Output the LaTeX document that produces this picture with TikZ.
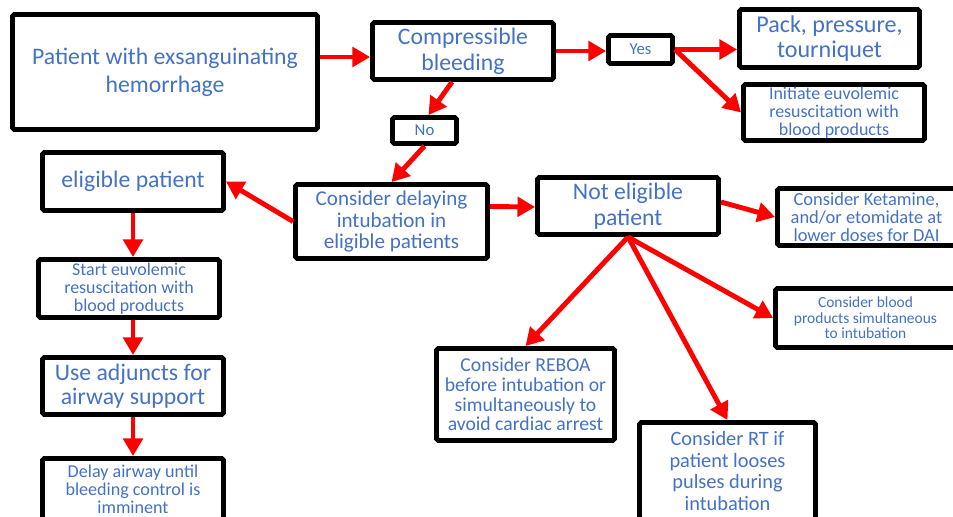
\documentclass[tikz,border=0pt]{standalone}
\usepackage{fontspec}
\setmainfont{Carlito}
\usepackage{tikz}
\usetikzlibrary{arrows.meta,calc}
\usepackage{xcolor}
\definecolor{txtblue}{HTML}{4472C4}

\begin{document}
\begin{tikzpicture}[x=0.02cm,y=-0.02cm,
  box/.style={draw=black,line width=2.8pt,rounded corners=1pt,fill=white,text=txtblue,align=center,inner sep=1pt},
  arr/.style={-{Triangle[length=10pt,width=11pt]},draw=red,line width=2.8pt}]
\useasboundingbox (0,0) rectangle (953,517);
% top row
\node[box,minimum width=6.1cm,minimum height=2.3cm,font=\fontsize{13.5}{16}\selectfont] (patient) at (165,72) {Patient with exsanguinating\\hemorrhage};
\node[box,minimum width=3.62cm,minimum height=1.14cm,font=\fontsize{13.5}{15}\selectfont] (cb) at (463,51) {Compressible\\bleeding};
\node[box,minimum width=1.28cm,minimum height=0.56cm,font=\fontsize{9.5}{11}\selectfont] (yes) at (640.5,49.5) {Yes};
\node[box,minimum width=3.6cm,minimum height=1.16cm,font=\fontsize{13.7}{14}\selectfont] (pack) at (829.5,38.5) {Pack, pressure,\\tourniquet};
\node[box,minimum width=3.62cm,minimum height=1.12cm,font=\fontsize{10.2}{10.2}\selectfont] (init) at (834,112.5) {Initiate euvolemic\\resuscitation with\\blood products};
\node[box,minimum width=1.28cm,minimum height=0.52cm,font=\fontsize{9.5}{11}\selectfont] (no) at (424.5,130.5) {No};
% middle row
\node[box,minimum width=3.62cm,minimum height=1.16cm,font=\fontsize{13.5}{15}\selectfont] (elig) at (133,181.5) {eligible patient};
\node[box,minimum width=3.84cm,minimum height=1.48cm,font=\fontsize{12}{12.3}\selectfont] (cdi) at (391.5,221.5) {Consider delaying\\intubation in\\eligible patients};
\node[box,minimum width=3.62cm,minimum height=1.14cm,font=\fontsize{13.5}{15}\selectfont] (ne) at (628,206) {Not eligible\\patient};
\node[box,minimum width=3.56cm,minimum height=1.14cm,font=\fontsize{10.5}{10.4}\selectfont] (ket) at (866.5,217) {Consider Ketamine,\\and/or etomidate at\\lower doses for DAI};
% left column
\node[box,minimum width=3.62cm,minimum height=1.16cm,font=\fontsize{10.2}{10.2}\selectfont] (start) at (129,288.5) {Start euvolemic\\resuscitation with\\blood products};
\node[box,minimum width=3.62cm,minimum height=1.14cm,font=\fontsize{13.5}{14}\selectfont] (adj) at (133,386) {Use adjuncts for\\airway support};
\node[box,minimum width=3.62cm,minimum height=1.22cm,font=\fontsize{10.3}{10.3}\selectfont] (dly) at (133,489) {Delay airway until\\bleeding control is\\imminent};
% lower right
\node[box,minimum width=3.6cm,minimum height=1.18cm,font=\fontsize{8.8}{8.8}\selectfont] (bp) at (865.5,318) {Consider blood\\products simultaneous\\to intubation};
\node[box,minimum width=3.56cm,minimum height=1.84cm,font=\fontsize{11.2}{11.2}\selectfont] (reboa) at (525.5,394.5) {Consider REBOA\\before intubation or\\simultaneously to\\avoid cardiac arrest};
\node[box,minimum width=3.52cm,minimum height=1.94cm,font=\fontsize{11.6}{12.5}\selectfont] (rt) at (727.5,471) {Consider RT if\\patient looses\\pulses during\\intubation};
% connectors
\draw[arr] ($(patient.east)+(0,-15)$) -- ($(cb.west)+(0,6)$);
\draw[arr] (cb.east) -- (cb.east -| yes.west);
\draw[arr] (yes.east) -- (yes.east -| pack.west);
\draw[arr] (yes.east) -- (init.west);
\draw[arr] ($(cb.south)+(-11,0)$) -- ($(no.north)+(4,0)$);
\draw[arr] (no.south) -- (cdi.north);
\draw[arr] (cdi.west) -- (elig.east);
\draw[arr] ($(cdi.east)+(0,-15)$) -- ($(ne.west)+(0,1)$);
\draw[arr] ($(ne.east)+(0,-4)$) -- (ket.west);
\draw[arr] (ne.south) -- (reboa.north);
\draw[arr] (ne.south) -- (rt.north);
\draw[arr] (ne.south) -- (bp.west);
\draw[arr] (elig.south) -- (elig.south |- start.north);
\draw[arr] (start.south -| adj.south) -- (adj.north);
\draw[arr] (adj.south) -- (dly.north);
\end{tikzpicture}
\end{document}
